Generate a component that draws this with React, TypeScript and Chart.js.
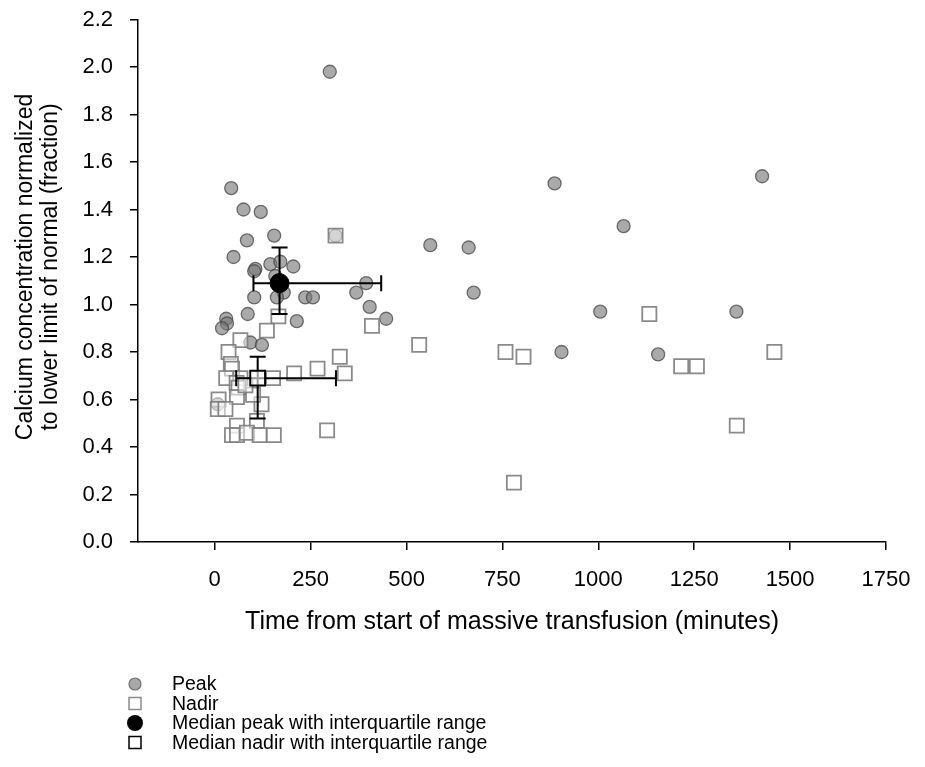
import React, { useEffect, useRef } from 'react';
import { Chart, registerables } from 'chart.js';

Chart.register(...registerables);

const FONT = '"Liberation Sans", Arial, Helvetica, sans-serif';

// Peak calcium (normalized) vs time (minutes)
const PEAK_X = [300, 43, 75, 120, 84, 155, 49, 106, 103, 145, 171, 205, 158, 165, 180, 162, 103, 236, 256, 395, 369, 404, 447, 214, 86, 30, 32, 19, 93, 123, 315, 8, 562, 662, 675, 886, 1066, 1005, 904, 1427, 1360, 1156];
const PEAK_Y = [1.98, 1.49, 1.40, 1.39, 1.27, 1.29, 1.20, 1.15, 1.14, 1.17, 1.18, 1.16, 1.12, 1.10, 1.05, 1.03, 1.03, 1.03, 1.03, 1.09, 1.05, 0.99, 0.94, 0.93, 0.96, 0.94, 0.92, 0.90, 0.84, 0.83, 1.29, 0.58, 1.25, 1.24, 1.05, 1.51, 1.33, 0.97, 0.80, 1.54, 0.97, 0.79];

// Nadir calcium (normalized) vs time (minutes)
const NADIR_X = [315, 166, 136, 67, 36, 42, 45, 326, 268, 207, 339, 152, 30, 67, 57, 62, 58, 10, 8, 28, 122, 110, 58, 45, 58, 84, 117, 154, 293, 410, 533, 758, 805, 780, 1133, 1216, 1257, 1459, 1361, 100, 80];
const NADIR_Y = [1.29, 0.95, 0.89, 0.85, 0.80, 0.75, 0.73, 0.78, 0.73, 0.71, 0.71, 0.69, 0.69, 0.69, 0.67, 0.65, 0.61, 0.60, 0.56, 0.56, 0.58, 0.51, 0.49, 0.45, 0.45, 0.46, 0.45, 0.45, 0.47, 0.91, 0.83, 0.80, 0.78, 0.25, 0.96, 0.74, 0.74, 0.80, 0.49, 0.62, 0.66];

// Medians with interquartile ranges: [peak, nadir]
const MEDIAN_X = [169, 112];
const MEDIAN_Y = [1.09, 0.69];
const IQR_X_LOW = [101, 56];
const IQR_X_HIGH = [434, 316];
const IQR_Y_LOW = [0.96, 0.52];
const IQR_Y_HIGH = [1.24, 0.78];

const X_TICKS = [0, 250, 500, 750, 1000, 1250, 1500, 1750];
const Y_TICKS = [0, 0.2, 0.4, 0.6, 0.8, 1.0, 1.2, 1.4, 1.6, 1.8, 2.0, 2.2];

const X_TITLE = 'Time from start of massive transfusion (minutes)';
const Y_TITLE = ['Calcium concentration normalized', 'to lower limit of normal (fraction)'];

const LABELS = ['Peak', 'Nadir', 'Median peak with interquartile range', 'Median nadir with interquartile range'];

const toPoints = (xs: number[], ys: number[]) => xs.map((x, i) => ({ x, y: ys[i] }));

const iqrPlugin = {
  id: 'iqrBars',
  beforeDatasetDraw(chart: any, args: any) {
    if (chart.data.datasets[args.index].label !== LABELS[3]) return;
    const { ctx } = chart;
    const xs = chart.scales.x;
    const ys = chart.scales.y;
    const cap = 8;
    ctx.save();
    ctx.strokeStyle = '#000';
    ctx.lineWidth = 2;
    for (let i = 0; i < MEDIAN_X.length; i++) {
      const cx = xs.getPixelForValue(MEDIAN_X[i]);
      const cy = ys.getPixelForValue(MEDIAN_Y[i]);
      const xl = xs.getPixelForValue(IQR_X_LOW[i]);
      const xh = xs.getPixelForValue(IQR_X_HIGH[i]);
      const yl = ys.getPixelForValue(IQR_Y_LOW[i]);
      const yh = ys.getPixelForValue(IQR_Y_HIGH[i]);
      ctx.beginPath();
      ctx.moveTo(xl, cy); ctx.lineTo(xh, cy);
      ctx.moveTo(xl, cy - cap); ctx.lineTo(xl, cy + cap);
      ctx.moveTo(xh, cy - cap); ctx.lineTo(xh, cy + cap);
      ctx.moveTo(cx, yl); ctx.lineTo(cx, yh);
      ctx.moveTo(cx - cap, yl); ctx.lineTo(cx + cap, yl);
      ctx.moveTo(cx - cap, yh); ctx.lineTo(cx + cap, yh);
      ctx.stroke();
    }
    ctx.restore();
  },
};

// Y-axis title (two lines, rotated), drawn slightly above the axis centre as in the reference
const yTitlePlugin = {
  id: 'yTitle',
  afterDraw(chart: any) {
    const { ctx } = chart;
    ctx.save();
    ctx.translate(0, 267);
    ctx.rotate(-Math.PI / 2);
    ctx.font = `23px ${FONT}`;
    ctx.fillStyle = '#000';
    ctx.textAlign = 'center';
    ctx.textBaseline = 'middle';
    ctx.fillText(Y_TITLE[0], 0, 26);
    ctx.fillText(Y_TITLE[1], 0, 51);
    ctx.restore();
  },
};

const legendPlugin = {
  id: 'columnLegend',
  afterDraw(chart: any) {
    const { ctx } = chart;
    const mx = 135;
    const tx = 172;
    const y0 = 684;
    const dy = 19.5;
    ctx.save();
    ctx.font = `19.5px ${FONT}`;
    ctx.textBaseline = 'middle';
    ctx.textAlign = 'left';
    LABELS.forEach((label, i) => {
      const y = y0 + i * dy;
      ctx.beginPath();
      if (i === 0) {
        ctx.arc(mx, y, 6, 0, Math.PI * 2);
        ctx.fillStyle = '#a8a8a8';
        ctx.fill();
        ctx.strokeStyle = '#707070';
        ctx.lineWidth = 1.2;
        ctx.stroke();
      } else if (i === 1) {
        ctx.rect(mx - 6, y - 6, 12, 12);
        ctx.fillStyle = '#fff';
        ctx.fill();
        ctx.strokeStyle = '#8a8a8a';
        ctx.lineWidth = 1.5;
        ctx.stroke();
      } else if (i === 2) {
        ctx.arc(mx, y, 8, 0, Math.PI * 2);
        ctx.fillStyle = '#000';
        ctx.fill();
      } else {
        ctx.rect(mx - 6, y - 6, 12, 12);
        ctx.fillStyle = '#fff';
        ctx.fill();
        ctx.strokeStyle = '#000';
        ctx.lineWidth = 1.5;
        ctx.stroke();
      }
      ctx.fillStyle = '#000';
      ctx.fillText(label, tx, y + 1);
    });
    ctx.restore();
  },
};

export default function App() {
  const ref = useRef<HTMLCanvasElement | null>(null);

  useEffect(() => {
    if (!ref.current) return;
    const chart = new Chart(ref.current, {
      type: 'scatter',
      data: {
        datasets: [
          {
            label: LABELS[0],
            data: toPoints(PEAK_X, PEAK_Y),
            pointStyle: 'circle',
            pointRadius: 6.5,
            backgroundColor: 'rgba(118,118,118,0.62)',
            borderColor: 'rgba(70,70,70,0.75)',
            borderWidth: 1.3,
            order: 4,
          },
          {
            label: LABELS[1],
            data: toPoints(NADIR_X, NADIR_Y),
            pointStyle: 'rect',
            pointRadius: 10,
            backgroundColor: 'rgba(255,255,255,0.5)',
            borderColor: 'rgba(125,125,125,0.9)',
            borderWidth: 1.8,
            order: 3,
          },
          {
            label: LABELS[2],
            data: [{ x: MEDIAN_X[0], y: MEDIAN_Y[0] }],
            pointStyle: 'circle',
            pointRadius: 9.5,
            backgroundColor: '#000',
            borderColor: '#000',
            borderWidth: 1,
            order: 1,
          },
          {
            label: LABELS[3],
            data: [{ x: MEDIAN_X[1], y: MEDIAN_Y[1] }],
            pointStyle: 'rect',
            pointRadius: 10.5,
            backgroundColor: 'rgba(255,255,255,0.6)',
            borderColor: '#000',
            borderWidth: 2,
            order: 2,
          },
        ],
      },
      options: {
        responsive: false,
        animation: false,
        events: [],
        layout: { padding: { top: 19.5, right: 39, bottom: 125, left: 0 } },
        plugins: {
          legend: { display: false },
          tooltip: { enabled: false },
        },
        scales: {
          x: {
            type: 'linear',
            min: -200,
            max: 1750,
            afterBuildTicks: (s: any) => {
              s.ticks = X_TICKS.map((v) => ({ value: v }));
            },
            afterFit: (s: any) => {
              s.height = 100;
              s.paddingLeft = 0;
              s.paddingRight = 0;
            },
            grid: { drawOnChartArea: false, drawTicks: true, tickLength: 8, color: '#000', lineWidth: 1.5 },
            border: { display: true, color: '#000', width: 1.5 },
            ticks: {
              color: '#000',
              font: { family: FONT, size: 22 },
              padding: 17,
              maxRotation: 0,
              autoSkip: false,
              callback: (v: any) => String(v),
            },
            title: {
              display: true,
              text: X_TITLE,
              color: '#000',
              font: { family: FONT, size: 25 },
              padding: { top: 0, bottom: 5 },
            },
          },
          y: {
            type: 'linear',
            min: 0,
            max: 2.2,
            afterBuildTicks: (s: any) => {
              s.ticks = Y_TICKS.map((v) => ({ value: v }));
            },
            afterFit: (s: any) => {
              s.width = 138;
              s.paddingTop = 0;
              s.paddingBottom = 0;
            },
            grid: { drawOnChartArea: false, drawTicks: true, tickLength: 8, color: '#000', lineWidth: 1.5 },
            border: { display: true, color: '#000', width: 1.5 },
            ticks: {
              color: '#000',
              font: { family: FONT, size: 22 },
              padding: 17,
              autoSkip: false,
              callback: (v: any) => Number(v).toFixed(1),
            },
            title: { display: false },
          },
        },
      },
      plugins: [iqrPlugin, yTitlePlugin, legendPlugin],
    } as any);
    return () => chart.destroy();
  }, []);

  return (
    <div style={{ position: 'absolute', left: 0, top: 0, width: 925, height: 767, background: '#fff' }}>
      <canvas ref={ref} width={925} height={767} style={{ display: 'block', width: 925, height: 767 }} />
    </div>
  );
}
